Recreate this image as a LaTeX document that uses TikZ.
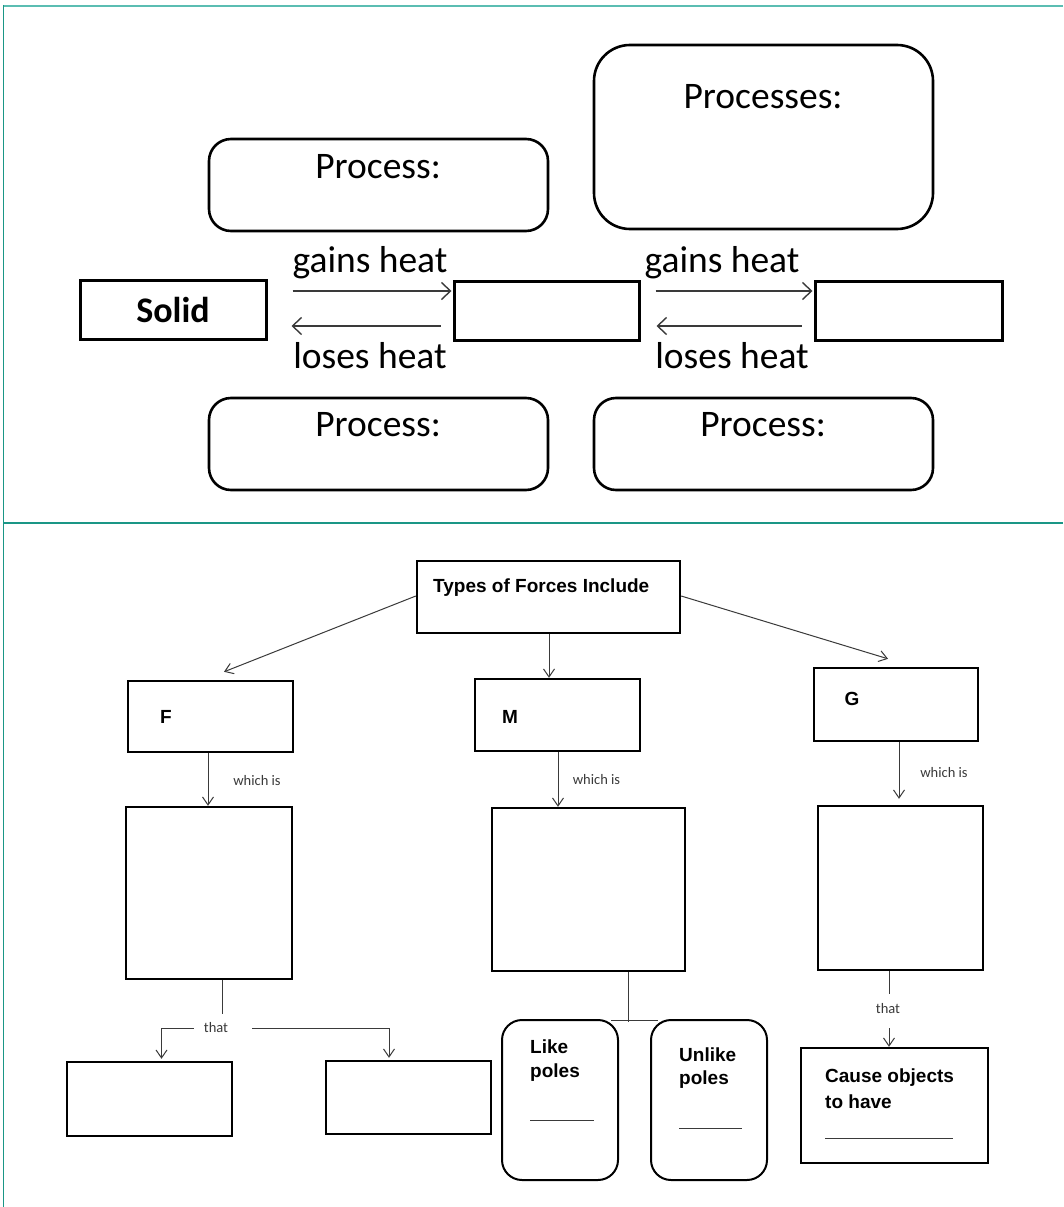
\documentclass[tikz,border=0pt]{standalone}
\usepackage{fontspec}
\setmainfont{Carlito}
\newfontfamily\arialf{Liberation Sans}
\usetikzlibrary{arrows.meta,calc}
\definecolor{tealA}{HTML}{5BBDB2}
\definecolor{tealB}{HTML}{1A9686}
\definecolor{arrgray}{HTML}{3A3A3A}
\begin{document}
\begin{tikzpicture}[x=1pt,y=-1pt,
  tbox/.style={draw=black, line width=3pt, minimum width=#1, inner sep=0pt},
  rbox/.style={draw=black, line width=2.6pt, rounded corners=22pt, inner sep=0pt},
  bbox/.style={draw=black, line width=2.4pt, inner sep=0pt},
  pbox/.style={draw=black, line width=2pt, rounded corners=20pt, inner sep=0pt},
  big/.style={font=\fontsize{37.5}{40}\selectfont, inner sep=0pt},
  harr/.style={draw=arrgray, line width=1.4pt, -{Straight Barb[length=9pt,width=17pt,line width=1.4pt]}},
  barr/.style={draw=arrgray, line width=1pt, -{Straight Barb[length=8pt,width=11pt,line width=1pt]}},
  bline/.style={draw=arrgray, line width=1pt},
  btxt/.style={font=\arialf\bfseries\fontsize{19}{26}\selectfont, inner sep=0pt, align=left},
  stxt/.style={font=\fontsize{14.5}{16}\selectfont, inner sep=0pt, text=arrgray},
]
\useasboundingbox (0,0) rectangle (1063,1207);
\fill[white] (0,0) rectangle (1063,1207);
% frame
\draw[tealA, line width=2pt] (3,6) -- (1063,6);
\draw[tealB, line width=2pt] (3,523) -- (1063,523);
\draw[tealB, line width=1.6pt] (3.5,5) -- (3.5,1207);

% ---------- top diagram ----------
\node[rbox, rounded corners=36pt, minimum width=339pt, minimum height=184pt] (procs) at (763.5,137) {};
\node[big] (procsT) at (763,97) {Processes:};
\node[rbox, minimum width=339pt, minimum height=92pt] (procA) at (378.5,185) {};
\node[big] (procAT) at (378,167) {Process:};
\node[rbox, minimum width=339pt, minimum height=92pt] (procB) at (378.5,444) {};
\node[big] (procBT) at (378,425) {Process:};
\node[rbox, minimum width=339pt, minimum height=92pt] (procC) at (763.5,444) {};
\node[big] (procCT) at (763,425) {Process:};

\node[tbox=186pt, minimum height=59pt, font=\bfseries\fontsize{36}{40}\selectfont] (solid) at (173,309.5) {Solid};
\node[tbox=185pt, minimum height=59pt] (liq) at (546.5,310.5) {};
\node[tbox=187pt, minimum height=59pt] (gas) at (908.5,310.5) {};

\draw[harr] ($(solid.east)+(25,-18.5)$) -- ($(liq.west)+(-1,-19.5)$);
\draw[harr] ($(liq.west)+(-12,15.5)$) -- ($(solid.east)+(24,16.5)$);
\draw[harr] ($(liq.east)+(15,-19.5)$) -- ($(gas.west)+(-1,-19.5)$);
\draw[harr] ($(gas.west)+(-12,15.5)$) -- ($(liq.east)+(16,15.5)$);
\node[big] (g1) at (370,263) {gains heat};
\node[big] (l1) at (370,356) {loses heat};
\node[big] (g2) at (722,263) {gains heat};
\node[big] (l2) at (732,356) {loses heat};

% ---------- bottom diagram ----------
\node[bbox, minimum width=263pt, minimum height=72pt] (types) at (548.5,597) {};
\node[btxt, anchor=west] (typesT) at (433,588) {Types of Forces Include};

\node[bbox, minimum width=165pt, minimum height=71pt] (F) at (210.5,716.5) {};
\node[btxt] (FT) at (166,717) {F};
\node[bbox, minimum width=165pt, minimum height=72pt] (M) at (557.5,715) {};
\node[btxt] (MT) at (510,717) {M};
\node[bbox, minimum width=164pt, minimum height=73pt] (G) at (896,704.5) {};
\node[btxt] (GT) at (852,699) {G};

\draw[barr] ($(types.west)+(0,-1)$) -- ($(F.north)+(13.5,-8)$);
\draw[barr] ($(types.south)+(0.5,0)$) -- ($(M.north)+(-8.5,0)$);
\draw[barr] ($(types.east)+(0,-1)$) -- ($(G.north)+(-8,-8)$);

\node[bbox, minimum width=166pt, minimum height=172pt] (F2) at (209,893) {};
\node[bbox, minimum width=193pt, minimum height=163pt] (M2) at (588.5,889.5) {};
\node[bbox, minimum width=165pt, minimum height=164pt] (G2) at (900.5,888) {};

\draw[barr] ($(F.south)+(-2.5,0)$) -- ($(F2.north)+(-1,0)$);
\draw[barr] ($(M.south)+(0.5,0)$) -- ($(M2.north)+(-30.5,0)$);
\draw[barr] ($(G.south)+(3,0)$) -- ($(G2.north)+(-1.5,-6)$);
\node[stxt] (w1) at (257,781) {which is};
\node[stxt] (w2) at (596.5,780) {which is};
\node[stxt] (w3) at (944,773) {which is};

% F branch
\node[bbox, minimum width=165pt, minimum height=74pt] (FL) at (149.5,1099) {};
\node[bbox, minimum width=165pt, minimum height=73pt] (FR) at (408.5,1097.5) {};
\node[stxt] (that1) at (216,1028) {that};
\draw[bline] ($(F2.south)+(13,0)$) -- ++(0,34);
\draw[barr] ($(that1.west)+(-10,0)$) -| ($(FL.north)+(12,-2)$);
\draw[barr] ($(that1.east)+(24,0)$) -| ($(FR.north)+(-19.5,-2)$);

% M branch
\node[pbox, minimum width=116pt, minimum height=160pt] (like) at (560,1100) {};
\node[pbox, minimum width=116pt, minimum height=160pt] (unlike) at (709,1100) {};
\draw[bline] ($(M2.south)+(39.5,0)$) -- ($(M2.south)+(39.5,50)$);
\draw[bline] ($(like.north east)+(-8,1)$) -- ($(unlike.north west)+(8,1)$);
\node[btxt, anchor=west] (likeT1) at (530,1047) {Like};
\node[btxt, anchor=west] (likeT2) at (530,1073) {poles};
\draw[bline] (530,1120) -- (594,1120);
\node[btxt, anchor=west] (unlikeT1) at (679,1055) {Unlike};
\node[btxt, anchor=west] (unlikeT2) at (679,1080) {poles};
\draw[bline] (679,1128) -- (742,1128);

% G branch
\node[bbox, minimum width=187pt, minimum height=115pt] (cause) at (894.5,1105.5) {};
\node[stxt] (that2) at (888,1009) {that};
\draw[bline] ($(G2.south)+(-11.5,0)$) -- ++(0,23);
\draw[barr] ($(that2.south)+(1,14)$) -- ($(cause.north)+(-5.5,0)$);
\node[btxt, anchor=west] (causeT1) at (825,1078) {Cause objects};
\node[btxt, anchor=west] (causeT2) at (825,1102) {to have};
\draw[bline] (825,1138) -- (953,1138);
\end{tikzpicture}
\end{document}
